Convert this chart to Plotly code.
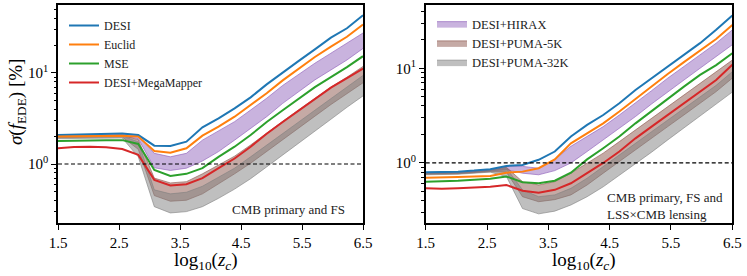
import plotly.graph_objects as go

W, H = 747, 276
FONT = "Liberation Serif"

# log10(z_c) sample points
z = [1.5, 1.763, 2.026, 2.289, 2.553, 2.816, 3.079, 3.342, 3.605, 3.868,
     4.132, 4.395, 4.658, 4.921, 5.184, 5.447, 5.711, 5.974, 6.237, 6.5]

# ---- Left panel: CMB primary and FS ----
L_desi = [2.08, 2.10, 2.12, 2.14, 2.17, 2.08, 1.59, 1.58, 1.76, 2.53,
          3.18, 4.09, 5.4, 7.5, 10.2, 13.6, 18.2, 24.5, 31.0, 43.0]
L_euclid = [2.00, 2.01, 2.02, 2.04, 2.05, 2.00, 1.39, 1.33, 1.49, 2.05,
            2.57, 3.31, 4.45, 6.0, 8.3, 11.2, 15.0, 19.5, 25.0, 34.0]
L_mse = [1.79, 1.81, 1.82, 1.82, 1.83, 1.66, 0.86, 0.74, 0.78, 0.90,
         1.20, 1.55, 2.08, 2.9, 3.9, 5.25, 7.0, 9.0, 11.6, 15.3]
L_mm = [1.49, 1.54, 1.55, 1.53, 1.46, 1.26, 0.67, 0.58, 0.60, 0.70,
        0.90, 1.15, 1.55, 2.15, 2.9, 3.9, 5.2, 6.9, 8.8, 11.2]
L_hirax_hi = [2.08, 2.09, 2.10, 2.12, 2.14, 2.05, 1.31, 1.20, 1.31, 1.83,
              2.3, 2.92, 3.92, 5.28, 7.3, 9.75, 12.8, 16.5, 21.2, 27.5]
L_hirax_lo = [2.00, 2.01, 2.02, 2.03, 2.04, 1.90, 0.91, 0.85, 0.90, 1.08,
              1.37, 1.83, 2.47, 3.31, 4.64, 6.2, 8.4, 10.8, 13.9, 18.6]
L_p5_hi = [2.02, 2.03, 2.04, 2.05, 2.06, 1.85, 0.70, 0.62, 0.64, 0.78,
           0.97, 1.22, 1.62, 2.2, 2.95, 3.95, 5.3, 7.0, 9.0, 11.8]
L_p5_lo = [1.95, 1.96, 1.97, 1.98, 1.98, 1.45, 0.45, 0.39, 0.40, 0.47,
           0.60, 0.78, 1.02, 1.38, 1.85, 2.5, 3.35, 4.5, 5.9, 7.8]
L_p32_hi = [2.00, 2.01, 2.02, 2.03, 2.04, 1.75, 0.52, 0.47, 0.49, 0.57,
            0.72, 0.90, 1.20, 1.6, 2.15, 2.9, 3.9, 5.2, 7.0, 9.4]
L_p32_lo = [1.90, 1.91, 1.92, 1.93, 1.93, 1.20, 0.34, 0.29, 0.30, 0.34,
            0.42, 0.53, 0.69, 0.93, 1.25, 1.7, 2.3, 3.1, 4.2, 5.6]

# ---- Right panel: CMB primary, FS and LSS x CMB lensing ----
R_desi = [0.797, 0.80, 0.81, 0.83, 0.86, 0.93, 0.95, 1.08, 1.32, 1.9,
          2.52, 3.21, 4.27, 5.9, 7.86, 10.4, 13.8, 18.4, 25.5, 36.0]
R_euclid = [0.70, 0.70, 0.71, 0.72, 0.73, 0.79, 0.81, 0.88, 1.09, 1.61,
            2.06, 2.62, 3.49, 4.74, 6.4, 8.7, 11.6, 15.4, 20.4, 28.6]
R_mse = [0.635, 0.64, 0.65, 0.665, 0.68, 0.72, 0.625, 0.61, 0.65, 0.79,
         1.09, 1.43, 1.9, 2.62, 3.54, 4.74, 6.4, 8.5, 10.8, 14.4]
R_mm = [0.54, 0.535, 0.54, 0.55, 0.56, 0.585, 0.51, 0.486, 0.52, 0.61,
        0.78, 1.0, 1.32, 1.82, 2.42, 3.21, 4.27, 5.67, 7.5, 10.9]
R_hirax_hi = [0.79, 0.795, 0.80, 0.82, 0.85, 0.92, 0.92, 0.88, 1.09, 1.5,
              1.9, 2.42, 3.21, 4.27, 5.8, 7.86, 10.4, 13.8, 18.4, 25.4]
R_hirax_lo = [0.77, 0.775, 0.78, 0.80, 0.83, 0.85, 0.78, 0.75, 0.83, 1.0,
              1.32, 1.75, 2.32, 3.09, 4.2, 5.67, 7.5, 10.0, 13.3, 17.7]
R_p5_hi = [0.78, 0.785, 0.79, 0.81, 0.84, 0.90, 0.635, 0.585, 0.635, 0.78,
           0.99, 1.27, 1.68, 2.23, 2.96, 3.94, 5.23, 6.95, 9.2, 12.2]
R_p5_lo = [0.76, 0.765, 0.77, 0.79, 0.81, 0.80, 0.44, 0.39, 0.41, 0.46,
           0.585, 0.78, 1.03, 1.37, 1.82, 2.42, 3.21, 4.27, 5.67, 7.86]
R_p32_hi = [0.775, 0.78, 0.785, 0.80, 0.83, 0.88, 0.52, 0.44, 0.46, 0.54,
            0.69, 0.91, 1.2, 1.61, 2.14, 2.84, 3.78, 5.0, 6.6, 9.2]
R_p32_lo = [0.75, 0.755, 0.76, 0.78, 0.80, 0.72, 0.33, 0.29, 0.31, 0.36,
            0.44, 0.56, 0.74, 0.98, 1.3, 1.75, 2.35, 3.15, 4.2, 5.6]

x_ticks = [1.5, 2.5, 3.5, 4.5, 5.5, 6.5]
x_ticktext = ["1.5", "2.5", "3.5", "4.5", "5.5", "6.5"]
y_ticks = [1, 10]
y_ticktext = ["10<sup>0</sup>", "10<sup>1</sup>"]
y_minor = [0.2, 0.3, 0.4, 0.5, 0.6, 0.7, 0.8, 0.9, 2, 3, 4, 5, 6, 7, 8, 9, 20, 30, 40, 50]

line_names = ["DESI", "Euclid", "MSE", "DESI+MegaMapper"]
line_colors = ["#1f77b4", "#ff7f0e", "#2ca02c", "#d62728"]
band_names = ["DESI+HIRAX", "DESI+PUMA-5K", "DESI+PUMA-32K"]
band_fill = ["rgba(148,103,189,0.5)", "rgba(140,86,75,0.5)", "rgba(127,127,127,0.5)"]
band_edge = ["rgba(148,103,189,0.85)", "rgba(140,86,75,0.75)", "rgba(127,127,127,0.75)"]

fig = go.Figure()


def px_x(p):
    return p / W


def px_y(p):
    return 1 - p / H


def add_panel(xa, ya, bands, lines, legend_name):
    for i, (lo, hi) in enumerate(bands):
        fig.add_trace(go.Scatter(x=z, y=lo, mode="lines", xaxis=xa, yaxis=ya,
                                 line=dict(color=band_edge[i], width=0.8),
                                 showlegend=False, hoverinfo="skip",
                                 legendgroup=legend_name + band_names[i]))
        fig.add_trace(go.Scatter(x=z, y=hi, mode="lines", xaxis=xa, yaxis=ya,
                                 fill="tonexty", fillcolor=band_fill[i],
                                 line=dict(color=band_edge[i], width=0.8),
                                 name=band_names[i],
                                 legendgroup=legend_name + band_names[i],
                                 showlegend=(legend_name == "legend2"),
                                 legend="legend2"))
    for i, vals in enumerate(lines):
        fig.add_trace(go.Scatter(x=z, y=vals, mode="lines", xaxis=xa, yaxis=ya,
                                 line=dict(color=line_colors[i], width=2),
                                 name=line_names[i],
                                 showlegend=(legend_name == "legend"),
                                 legend="legend"))
    # dashed reference line at sigma = 1%
    fig.add_trace(go.Scatter(x=[x_ticks[0], x_ticks[-1]], y=[1, 1], mode="lines",
                             xaxis=xa, yaxis=ya, showlegend=False, hoverinfo="skip",
                             line=dict(color="black", width=1.2, dash="4px,2.5px")))


add_panel("x", "y",
          [(L_hirax_lo, L_hirax_hi), (L_p5_lo, L_p5_hi), (L_p32_lo, L_p32_hi)],
          [L_desi, L_euclid, L_mse, L_mm], "legend")
add_panel("x2", "y2",
          [(R_hirax_lo, R_hirax_hi), (R_p5_lo, R_p5_hi), (R_p32_lo, R_p32_hi)],
          [R_desi, R_euclid, R_mse, R_mm], "legend2")

tickfont = dict(family=FONT, size=15, color="black")
xcommon = dict(range=[1.5, 6.5], tickvals=x_ticks, ticktext=x_ticktext,
               ticks="outside", ticklen=5, tickwidth=1.3, tickcolor="black",
               showline=True, mirror=True, linecolor="black", linewidth=1.6,
               showgrid=False, zeroline=False, tickfont=tickfont, automargin=False)
ycommon = dict(type="log", tickvals=y_ticks, ticktext=y_ticktext,
               ticks="outside", ticklen=5, tickwidth=1.3, tickcolor="black",
               minor=dict(tickvals=y_minor, ticks="outside", ticklen=2.5,
                          tickwidth=1, tickcolor="black", showgrid=False),
               showline=True, mirror=True, linecolor="black", linewidth=1.6,
               showgrid=False, zeroline=False, tickfont=tickfont, automargin=False)

xtitle = "log<sub>10</sub>(<i>z<sub>c</sub></i>)"
title_font = dict(family=FONT, size=19, color="black")

fig.update_layout(
    width=W, height=H,
    margin=dict(l=0, r=0, t=0, b=0, autoexpand=False),
    paper_bgcolor="white", plot_bgcolor="white",
    xaxis=dict(domain=[px_x(58), px_x(363)], anchor="y", **xcommon),
    yaxis=dict(domain=[px_y(223), px_y(5)], anchor="x",
               range=[-0.648, 1.747], **ycommon),
    xaxis2=dict(domain=[px_x(425.7), px_x(732.3)], anchor="y2", **xcommon),
    yaxis2=dict(domain=[px_y(223), px_y(5)], anchor="x2",
                range=[-0.634, 1.668], **ycommon),
    legend=dict(x=px_x(64), y=px_y(11), xanchor="left", yanchor="top",
                bgcolor="rgba(0,0,0,0)", borderwidth=0, tracegroupgap=0,
                font=dict(family=FONT, size=12, color="#222")),
    legend2=dict(x=px_x(432), y=px_y(9), xanchor="left", yanchor="top",
                 bgcolor="rgba(0,0,0,0)", borderwidth=0, tracegroupgap=0,
                 font=dict(family=FONT, size=12.5, color="#222")),
    showlegend=True,
    annotations=[
        dict(text="<i>σ</i>(<i>f</i><sub>EDE</sub>) [%]", textangle=-90,
             x=px_x(17), y=px_y(102), xref="paper", yref="paper",
             xanchor="center", yanchor="middle", showarrow=False,
             font=dict(family=FONT, size=19, color="black")),
        dict(text=xtitle, x=px_x(206), y=0, xref="paper", yref="paper",
             xanchor="center", yanchor="bottom", yshift=1, showarrow=False,
             font=title_font),
        dict(text=xtitle, x=px_x(584), y=0, xref="paper", yref="paper",
             xanchor="center", yanchor="bottom", yshift=1, showarrow=False,
             font=title_font),
        dict(text="CMB primary and FS", x=px_x(288), y=px_y(209),
             xref="paper", yref="paper", xanchor="center", yanchor="middle",
             showarrow=False, font=dict(family=FONT, size=13, color="#222")),
        dict(text="CMB primary, FS and<br>LSS×CMB lensing", x=px_x(605), y=px_y(205.5),
             xref="paper", yref="paper", xanchor="left", yanchor="middle",
             align="left", showarrow=False,
             font=dict(family=FONT, size=13, color="#222")),
    ],
)

fig.write_html("out.html", config={"displayModeBar": False},
               post_script="document.body.style.margin='0';"
                           "document.body.style.overflow='hidden';")
